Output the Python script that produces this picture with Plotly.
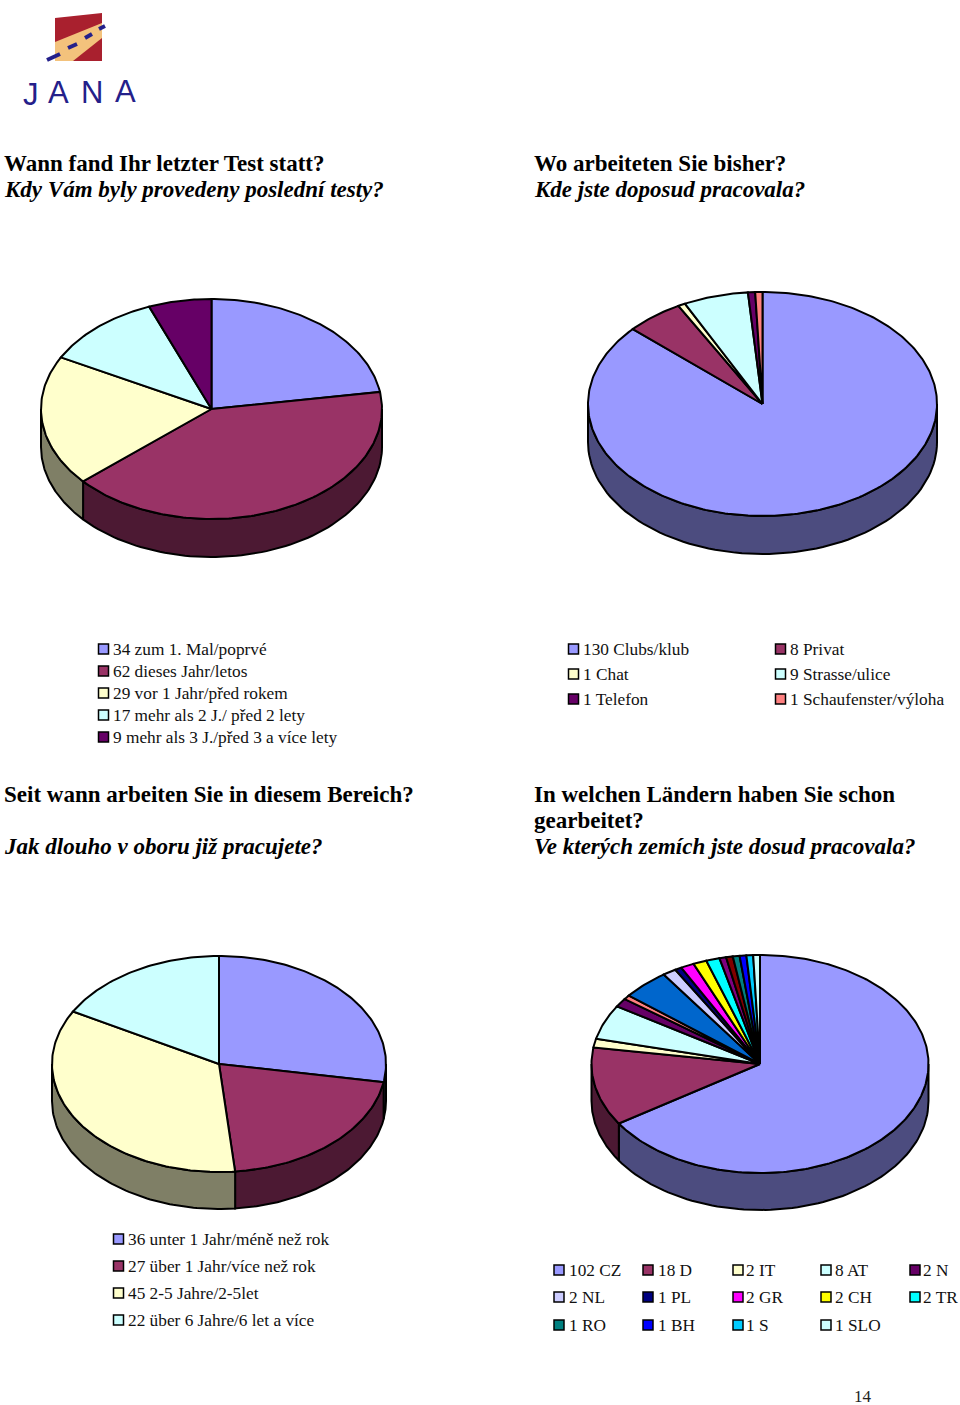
import math
import plotly.graph_objects as go

# ---- data ----
pie1_values = [34, 62, 29, 17, 9]
pie1_colors = ["#9999FF", "#993366", "#FFFFCC", "#CCFFFF", "#660066"]
pie1_labels = ["34 zum 1. Mal/poprvé", "62 dieses Jahr/letos", "29 vor 1 Jahr/před rokem",
               "17 mehr als 2 J./ před 2 lety", "9 mehr als 3 J./před 3 a více lety"]

pie2_values = [130, 8, 1, 9, 1, 1]
pie2_colors = ["#9999FF", "#993366", "#FFFFCC", "#CCFFFF", "#660066", "#FF8080"]
pie2_labels = ["130 Clubs/klub", "8 Privat", "1 Chat", "9 Strasse/ulice", "1 Telefon", "1 Schaufenster/výloha"]

pie3_values = [36, 27, 45, 22]
pie3_colors = ["#9999FF", "#993366", "#FFFFCC", "#CCFFFF"]
pie3_labels = ["36 unter 1 Jahr/méně než rok", "27 über 1 Jahr/více než rok",
               "45 2-5 Jahre/2-5let", "22 über 6 Jahre/6 let a více"]

pie4_values = [102, 18, 2, 8, 2, 1, 7, 2, 1, 2, 2, 2, 1, 1, 1, 1, 1, 1]
pie4_colors = ["#9999FF", "#993366", "#FFFFCC", "#CCFFFF", "#660066", "#FF8080", "#0066CC", "#CCCCFF",
               "#000080", "#FF00FF", "#FFFF00", "#00FFFF", "#800080", "#800000", "#008080", "#0000FF",
               "#00CCFF", "#CCFFFF"]
pie4_legend_labels = ["102 CZ", "18 D", "2 IT", "8 AT", "2 N", "2 NL", "1 PL", "2 GR", "2 CH", "2 TR",
                      "1 RO", "1 BH", "1 S", "1 SLO"]
pie4_legend_colors = ["#9999FF", "#993366", "#FFFFCC", "#CCFFFF", "#660066", "#CCCCFF", "#000080", "#FF00FF",
                      "#FFFF00", "#00FFFF", "#008080", "#0000FF", "#00CCFF", "#CCFFFF"]

headings = [
    (3.5, 163, "Wann fand Ihr letzter Test statt?", False),
    (3.5, 189, "Kdy Vám byly provedeny poslední testy?", True),
    (534, 163, "Wo arbeiteten Sie bisher?", False),
    (534, 189, "Kde jste doposud pracovala?", True),
    (4, 794, "Seit wann arbeiten Sie in diesem Bereich?", False),
    (4, 846, "Jak dlouho v oboru již pracujete?", True),
    (534, 794, "In welchen Ländern haben Sie schon", False),
    (534, 820, "gearbeitet?", False),
    (534, 846, "Ve kterých zemích jste dosud pracovala?", True),
]

FONT = "Liberation Serif"
fig = go.Figure()


def dark(c):
    r, g, b = [int(c[i:i + 2], 16) for i in (1, 3, 5)]
    return f"rgb({r // 2},{g // 2},{b // 2})"


def poly(xs, ys, fill, width=2.0):
    fig.add_trace(go.Scatter(x=xs, y=ys, mode="lines", fill="toself", fillcolor=fill,
                             line=dict(color="black", width=width), hoverinfo="skip", showlegend=False))


def pie(values, colors, cx, cy, rx, ry, depth):
    total = sum(values)
    spans = []
    acc = 0
    for v in values:
        spans.append((acc / total * 2 * math.pi, (acc + v) / total * 2 * math.pi))
        acc += v
    ex = lambda t: cx + rx * math.sin(t)
    ey = lambda t: cy - ry * math.cos(t)
    # side wall: only the front half of the ellipse is visible
    for (a, b), c in zip(spans, colors):
        lo, hi = max(a, math.pi / 2), min(b, 1.5 * math.pi)
        if hi <= lo:
            continue
        ts = [lo + (hi - lo) * i / 80 for i in range(81)]
        xs = [ex(t) for t in ts] + [ex(t) for t in reversed(ts)] + [ex(ts[0])]
        ys = [ey(t) for t in ts] + [ey(t) + depth for t in reversed(ts)] + [ey(ts[0])]
        poly(xs, ys, dark(c))
    # top wedges
    for (a, b), c in zip(spans, colors):
        n = max(4, int((b - a) * 60))
        ts = [a + (b - a) * i / n for i in range(n + 1)]
        poly([cx] + [ex(t) for t in ts] + [cx], [cy] + [ey(t) for t in ts] + [cy], c)


def legend(labels, colors, sx, tx, ys, size=17.3):
    for lab, c, sqx, tex, y in zip(labels, colors, sx, tx, ys):
        fig.add_trace(go.Scatter(x=[sqx], y=[y], mode="markers", hoverinfo="skip", showlegend=False,
                                 marker=dict(symbol="square", size=10, color=c, line=dict(color="black", width=1.5))))
        fig.add_annotation(x=tex, y=y, text=lab, showarrow=False, xanchor="left", yanchor="middle",
                           xshift=-2, font=dict(family=FONT, size=size, color="#111"))


pie(pie1_values, pie1_colors, 211.5, 409, 170.5, 110, 38)
pie(pie2_values, pie2_colors, 762.5, 404, 174.5, 112, 38)
pie(pie3_values, pie3_colors, 219, 1064, 167, 108, 37)
pie(pie4_values, pie4_colors, 760, 1064, 168.5, 109, 37)

legend(pie1_labels, pie1_colors, [103.5] * 5, [113] * 5, [649, 671, 693, 715, 737])
legend(pie2_labels, pie2_colors, [573.5, 780.5] * 3, [583, 790] * 3, [649, 649, 674, 674, 699, 699])
legend(pie3_labels, pie3_colors, [118.5] * 4, [128] * 4, [1239, 1266, 1293, 1320])
col_sq = [559, 648, 738, 826, 915]
col_tx = [569, 658, 746, 835, 923]
row_y = [1270, 1297, 1325]
idx = [(r, c) for r in range(3) for c in range(5)][:14]
legend(pie4_legend_labels, pie4_legend_colors, [col_sq[c] for r, c in idx], [col_tx[c] for r, c in idx],
       [row_y[r] for r, c in idx])

for x, y, t, it in headings:
    fig.add_annotation(x=x, y=y, text=f"<b>{'<i>' + t + '</i>' if it else t}</b>", showarrow=False,
                       xanchor="left", yanchor="middle", xshift=-2,
                       font=dict(family=FONT, size=23, color="black"))
fig.add_annotation(x=863, y=1396, text="14", showarrow=False, font=dict(family=FONT, size=17, color="#222"))

# logo
shapes = [
    dict(type="path", path="M55,18 L102,13 L102,61 L55,61 Z", fillcolor="#A9202E", line=dict(width=0)),
    dict(type="path", path="M55,42 L102,23 L102,38 L73,61 L55,61 Z", fillcolor="#F3C27C", line=dict(width=0)),
]
for x0, y0, x1, y1 in [(47, 60, 60, 54), (68, 48, 77, 44), (85, 38, 92, 34), (99, 29, 105, 26)]:
    shapes.append(dict(type="line", x0=x0, y0=y0, x1=x1, y1=y1, line=dict(color="#24208A", width=4)))
for x, y, t in [(31, 94, "J"), (58, 92, "A"), (92, 92, "N"), (125, 91, "A")]:
    fig.add_annotation(x=x, y=y, text=t, showarrow=False,
                       font=dict(family="Liberation Sans", size=31, color="#24208A"))

fig.update_layout(
    width=960, height=1405, margin=dict(l=0, r=0, t=0, b=0),
    paper_bgcolor="white", plot_bgcolor="white", showlegend=False, shapes=shapes,
    xaxis=dict(range=[0, 960], visible=False, fixedrange=True),
    yaxis=dict(range=[1405, 0], visible=False, fixedrange=True),
)
fig.write_html("out.html", config=dict(displayModeBar=False),
               post_script="document.body.style.margin='0';document.documentElement.style.overflow='hidden';")
